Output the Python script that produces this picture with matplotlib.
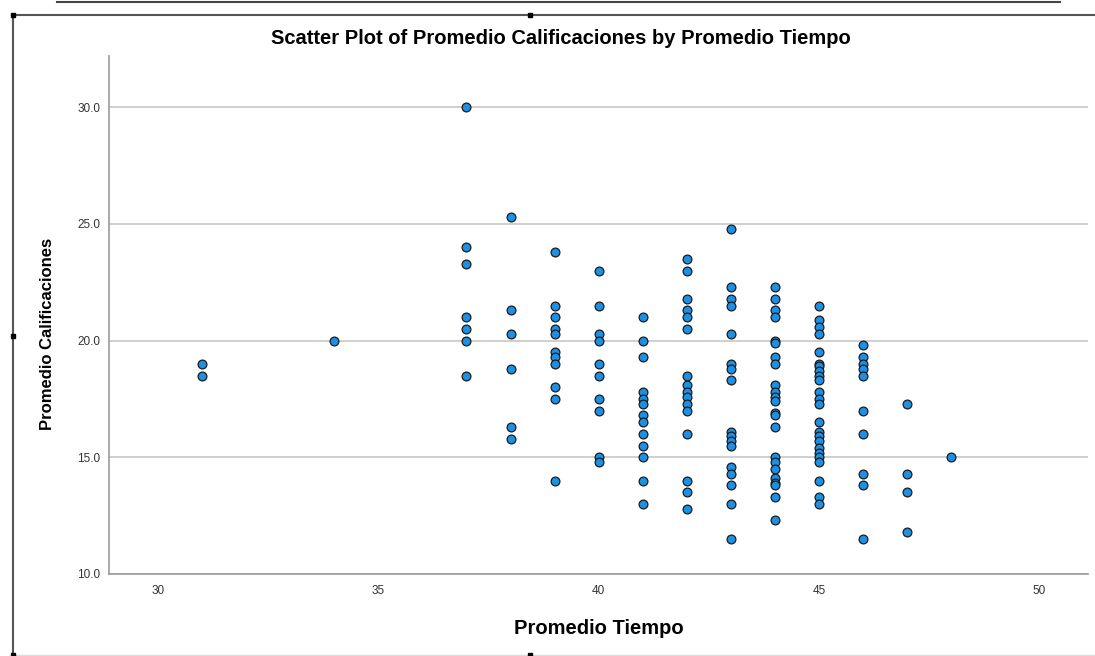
import matplotlib
matplotlib.use("Agg")
import matplotlib.pyplot as plt
from matplotlib.lines import Line2D

plt.rcParams['font.family'] = ['Liberation Sans', 'DejaVu Sans']

# Promedio Calificaciones for each Promedio Tiempo value
tiempo = [31, 34, 37, 38, 39, 40, 41, 42, 43, 44, 45, 46, 47, 48]
calif = [
    [19.0, 18.5],
    [20.0],
    [30.0, 24.0, 23.3, 21.0, 20.5, 20.0, 18.5],
    [25.3, 21.3, 20.3, 18.8, 16.3, 15.8],
    [23.8, 21.5, 21.0, 20.5, 20.3, 19.5, 19.3, 19.0, 18.0, 17.5, 14.0],
    [23.0, 21.5, 20.3, 20.0, 19.0, 18.5, 17.5, 17.0, 15.0, 14.8],
    [21.0, 20.0, 19.3, 17.8, 17.5, 17.3, 16.8, 16.5, 16.0, 15.5, 15.0, 14.0, 13.0],
    [23.5, 23.0, 21.8, 21.3, 21.0, 20.5, 18.5, 18.1, 17.8, 17.6, 17.3, 17.0,
     16.0, 14.0, 13.5, 12.8],
    [24.8, 22.3, 21.8, 21.5, 20.3, 19.0, 18.8, 18.3, 16.1, 15.9, 15.7, 15.5,
     14.6, 14.3, 13.8, 13.0, 11.5],
    [22.3, 21.8, 21.3, 21.0, 20.0, 19.9, 19.3, 19.0, 18.1, 17.8, 17.6, 17.4,
     16.9, 16.8, 16.3, 15.0, 14.8, 14.5, 14.1, 13.9, 13.8, 13.3, 12.3],
    [21.5, 20.9, 20.6, 20.3, 19.5, 19.0, 18.9, 18.7, 18.5, 18.3, 17.8, 17.5,
     17.3, 16.5, 16.1, 15.9, 15.7, 15.4, 15.2, 15.0, 14.8, 14.0, 13.3, 13.0],
    [19.8, 19.3, 19.0, 18.8, 18.5, 17.0, 16.0, 14.3, 13.8, 11.5],
    [17.3, 14.3, 13.5, 11.8],
    [15.0],
]

xs = []
ys = []
for t, vals in zip(tiempo, calif):
    xs += [t] * len(vals)
    ys += vals

fig = plt.figure(figsize=(10.95, 6.56), dpi=100)
ax = fig.add_axes([109/1095, 82/656, 979/1095, 518/656])

ax.scatter(xs, ys, s=40, color='#1c90e4', edgecolor='#1a1a1a', linewidth=0.9, zorder=3)

ax.set_xlim(28.89, 51.1)
ax.set_ylim(10, 32.2)
ax.set_xticks([30, 35, 40, 45, 50])
ax.set_yticks([10, 15, 20, 25, 30])
ax.set_yticklabels(['10.0', '15.0', '20.0', '25.0', '30.0'])
ax.yaxis.grid(True, color='#cccccc', linewidth=1.3, zorder=0)
ax.tick_params(length=0, labelsize=8.5, colors='#333333', pad=8)
ax.tick_params(axis='y', pad=6)
for s in ['top', 'right']:
    ax.spines[s].set_visible(False)
for s in ['left', 'bottom']:
    ax.spines[s].set_color('#999999')
    ax.spines[s].set_linewidth(1.2)

ax.set_xlabel('Promedio Tiempo', fontsize=14.5, fontweight='bold', labelpad=16)
ax.set_ylabel('Promedio Calificaciones', fontsize=12, fontweight='bold')
ax.yaxis.set_label_coords(-0.055, 0.463)
fig.text(561/1095, 1 - 38/656, 'Scatter Plot of Promedio Calificaciones by Promedio Tiempo',
         ha='center', va='center', fontsize=14.5, fontweight='bold')

# SPSS output frame
def fx(px):
    return px / 1095

def fy(py):
    return 1 - py / 656

fig.add_artist(Line2D([fx(57), fx(1060)], [fy(1.5), fy(1.5)], color='#444444', lw=1.5))
fig.add_artist(Line2D([fx(13), fx(1095)], [fy(15), fy(15)], color='#555555', lw=1.5))
fig.add_artist(Line2D([fx(13), fx(13)], [fy(15), fy(656)], color='#555555', lw=1.5))
fig.add_artist(Line2D([fx(13), fx(1095)], [fy(655), fy(655)], color='#dddddd', lw=1))
for hx, hy in [(13, 15), (13, 336), (13, 655), (530, 15), (530, 655)]:
    fig.add_artist(Line2D([fx(hx)], [fy(hy)], marker='s', markersize=3.5, color='black'))

fig.savefig('out.png', dpi=100)
